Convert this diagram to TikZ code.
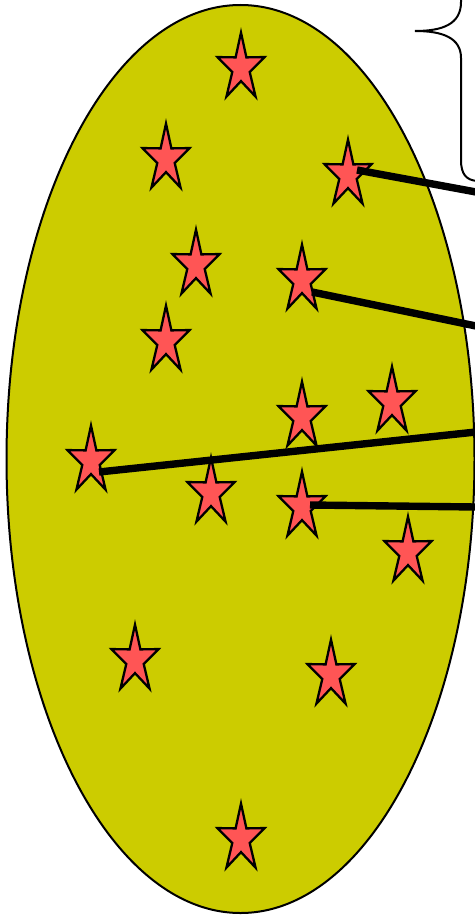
\documentclass[tikz,border=0pt]{standalone}
\usepackage{xcolor}
\usepackage{tikz}
\usetikzlibrary{shapes.geometric}
\definecolor{blobolive}{RGB}{204,204,0}
\definecolor{starred}{RGB}{255,85,85}

\begin{document}
\begin{tikzpicture}[
  x=0.5pt, y=-0.5pt,
  spark/.style={star, star points=5, star point ratio=2.7, draw=black, line width=1.15pt,
                fill=starred, minimum size=35.4pt, inner sep=0pt, outer sep=0pt, xscale=0.7},
  link/.style={line width=3.7pt, black},
  brace/.style={line width=1pt, black}
]
\useasboundingbox (0,0) rectangle (475,915);
\draw[line width=1pt, fill=blobolive] (240.5,459) ellipse [x radius=234, y radius=454];

\node[spark] (s1) at (241,68) {};
\node[spark] (s2) at (166,159) {};
\node[spark] (s3) at (348,175) {};
\node[spark] (s4) at (196,265) {};
\node[spark] (s5) at (302,280) {};
\node[spark] (s6) at (166,341) {};
\node[spark] (s7) at (302,417) {};
\node[spark] (s8) at (392,402) {};
\node[spark] (s9) at (91,461) {};
\node[spark] (s10) at (211,493) {};
\node[spark] (s11) at (302,507) {};
\node[spark] (s12) at (408,552) {};
\node[spark] (s13) at (135,660) {};
\node[spark] (s14) at (331,675) {};
\node[spark] (s15) at (241,839) {};

\coordinate (e1) at (476,192);
\coordinate (e2) at (476,326);
\coordinate (e3) at (476,432);
\coordinate (e4) at (476,507);

\draw[link] ([shift={(9,-5)}]s3.center) -- (e1);
\draw[link] ([shift={(10,12)}]s5.center) -- (e2);
\draw[link] ([shift={(8,11)}]s9.center) -- (e3);
\draw[link] ([shift={(8,-2)}]s11.center) -- (e4);

% brace at top right
\draw[brace] (461,-10) -- (461,2) .. controls (461,24) and (443,31) .. (415,31)
  .. controls (443,31) and (461,38) .. (461,58) -- (461,160)
  .. controls (461,174) and (466,180) .. (477,181);
\end{tikzpicture}
\end{document}
